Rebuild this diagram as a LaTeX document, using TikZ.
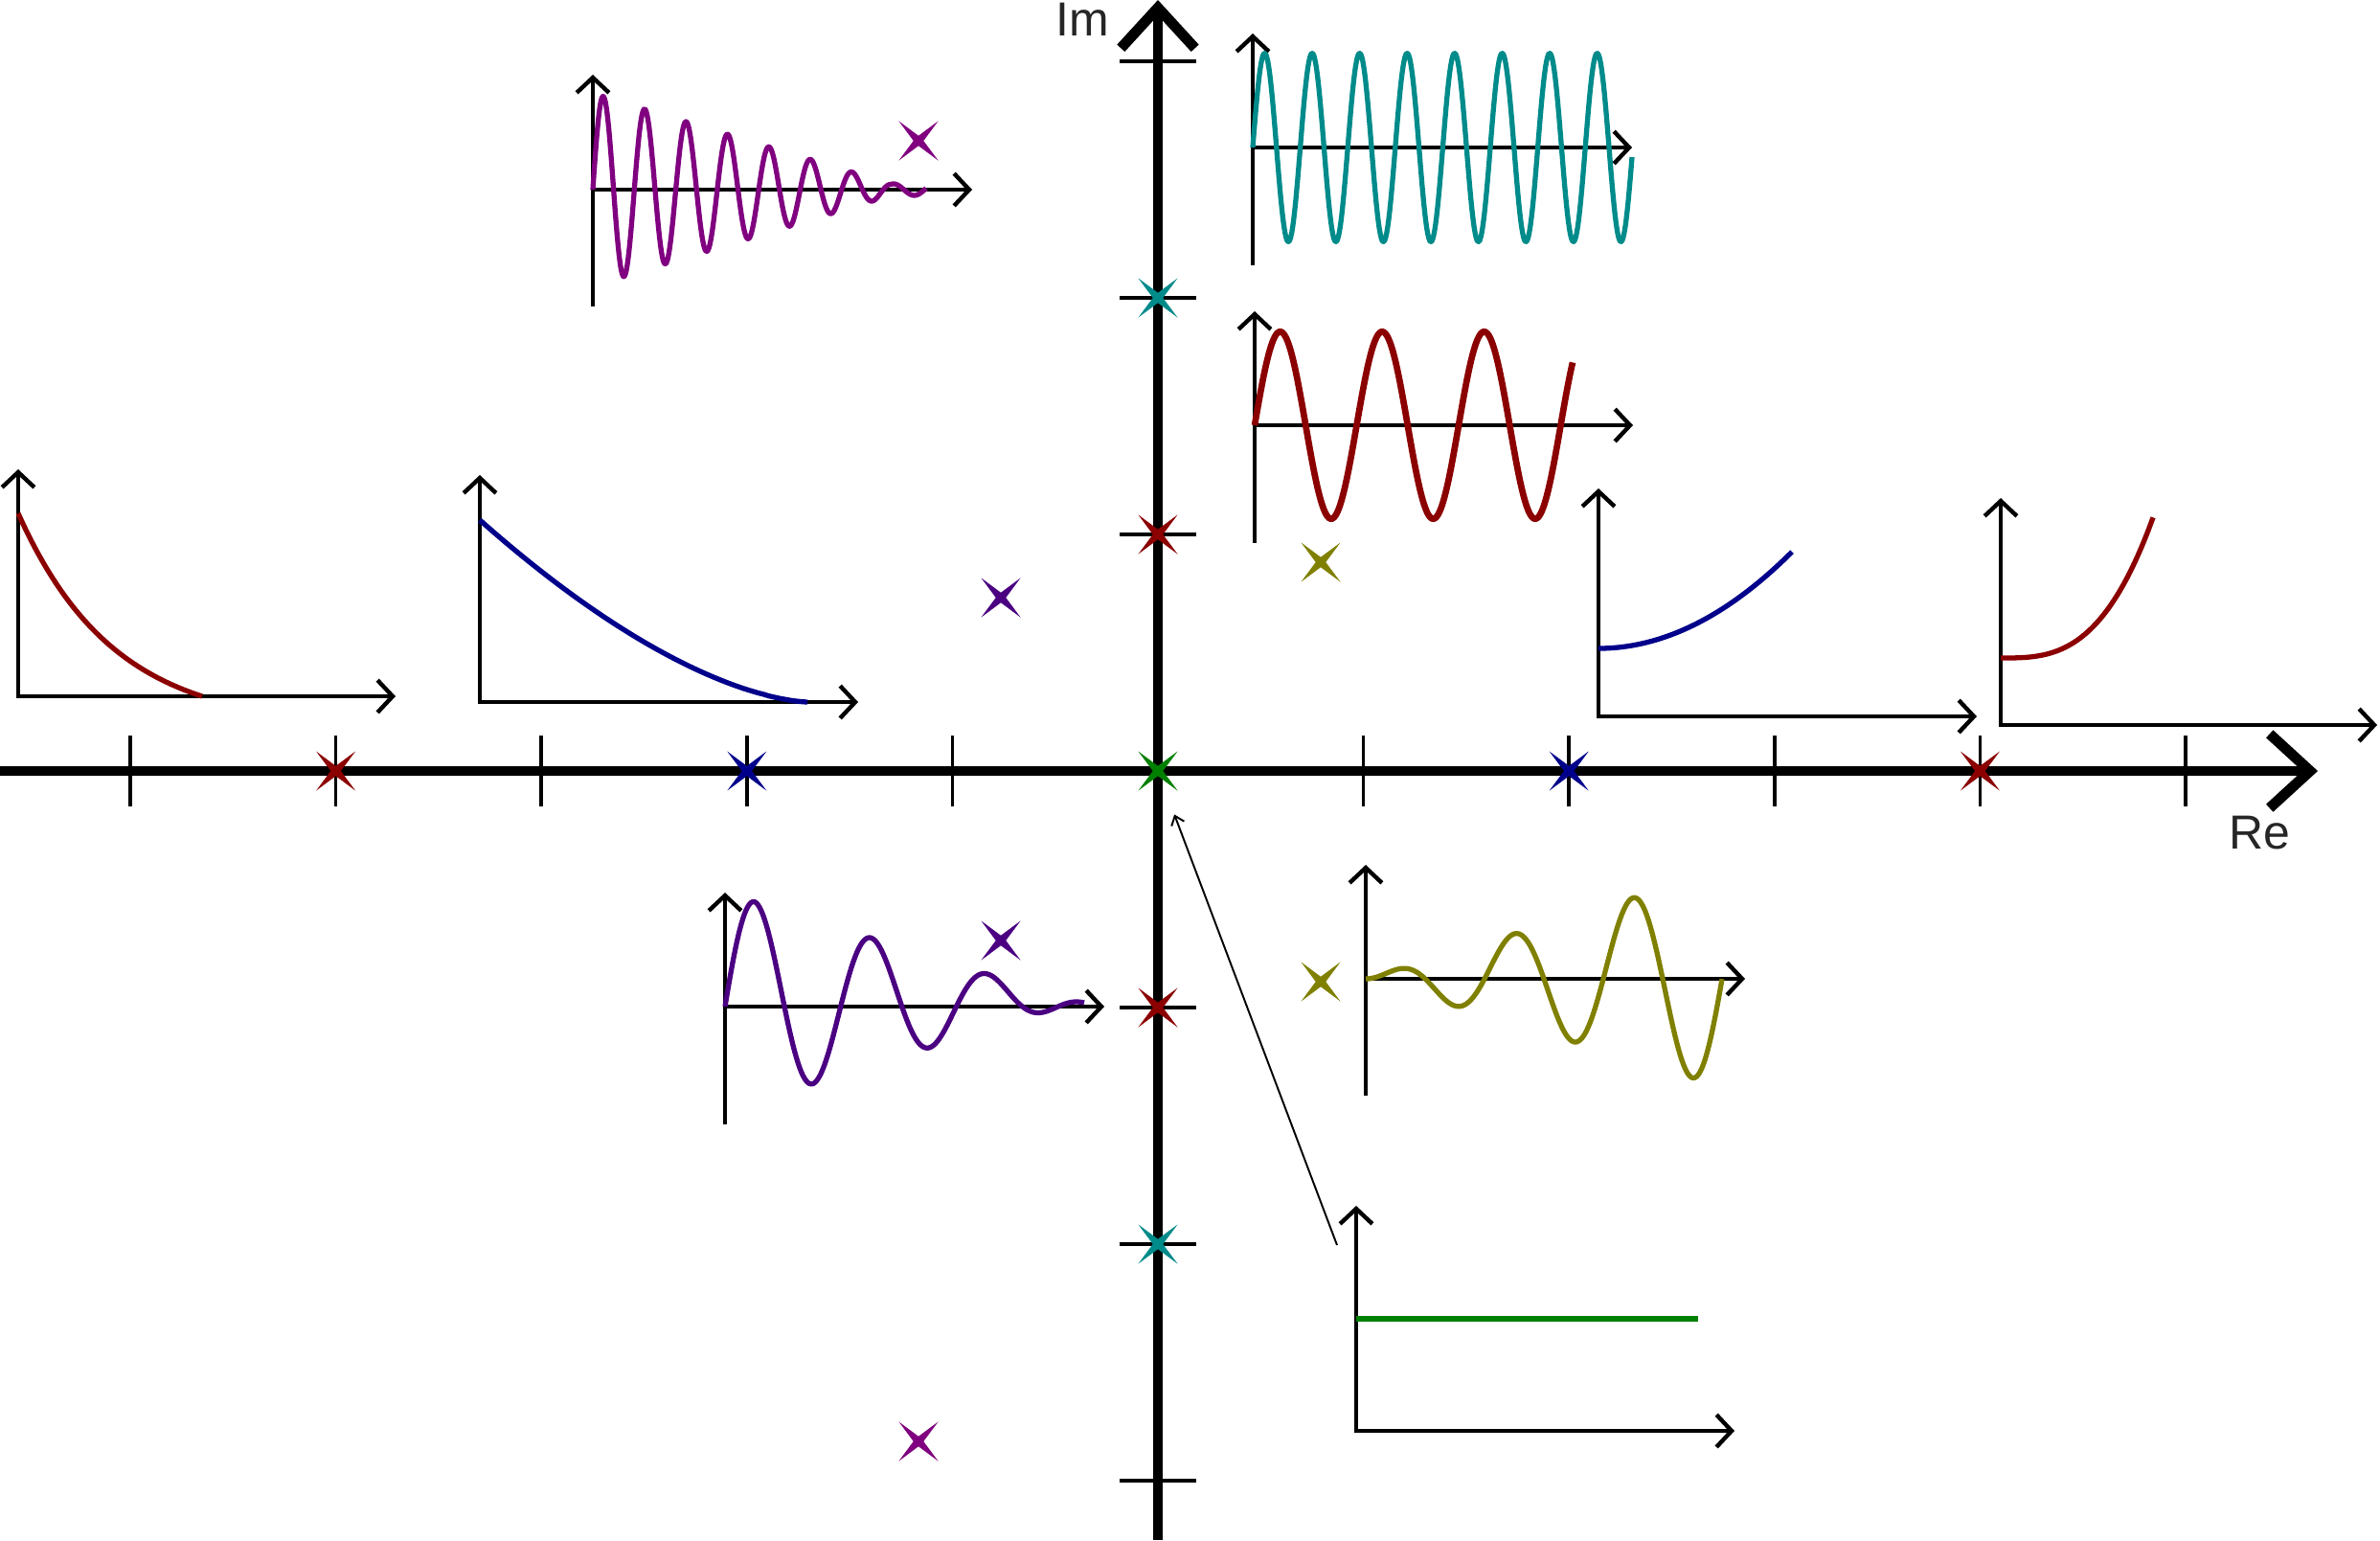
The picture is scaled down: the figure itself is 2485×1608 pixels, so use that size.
\documentclass[tikz,border=0pt]{standalone}
\usepackage{fontspec}
\setsansfont{Liberation Sans}
\usetikzlibrary{arrows.meta,shapes.geometric,positioning,calc}
\definecolor{wred}{RGB}{139,0,0}
\definecolor{wblue}{RGB}{0,0,139}
\definecolor{wteal}{RGB}{0,139,139}
\definecolor{wgreen}{RGB}{0,128,0}
\definecolor{wpurple}{RGB}{128,0,128}
\definecolor{windigo}{RGB}{75,0,130}
\definecolor{wolive}{RGB}{128,128,0}
\pgfmathsetmacro{\ox}{1209}
\pgfmathsetmacro{\oy}{805}
\pgfmathsetmacro{\ux}{214.6}
\pgfmathsetmacro{\uy}{247}

\begin{document}
\begin{tikzpicture}[x=0.01cm, y=-0.01cm,
    mainaxis/.style={line width=3.1pt, -{Straight Barb[length=12pt, width=22pt]}},
    tickmark/.style={line width=1pt},
    miniaxis/.style={line width=1.25pt, line cap=rect, -{Straight Barb[length=4.5pt, width=9.6pt]}},
    wave/.style={#1, line width=1.5pt, line join=round},
    pole/.style={star, star points=4, star point ratio=5.5, shape border rotate=45,
        fill=#1, inner sep=0pt, minimum size=16.5pt},
    link/.style={line width=0.55pt, shorten >=11.2pt, -{Straight Barb[length=2.5pt, width=4pt]}},
    axislabel/.style={text=black!85, font=\sffamily\fontsize{14.2}{17}\selectfont, inner sep=0pt}]
    \useasboundingbox (0,0) rectangle (2485,1608);
    \foreach \x/\y/\b/\t/\r in {619/198/318/78/1015, 1308/154/275/35/1704, 1310/444/565/325/1705,
        1426/1022/1142/903/1822, 757/1051/1172/932/1153, 19/727/727/490/413, 501/733/733/496/896,
        1669/748/748/510/2064, 2089/757/757/520/2482, 1416/1494/1494/1259/1811} {
        \draw[miniaxis] (\x,\b) -- (\x,\t);
        \draw[miniaxis] (\x,\y) -- (\r,\y);
    }
    \draw[wave=wpurple] plot[domain=0:348, samples=400] ({619+\x}, {198-max(6,100.7-0.304*\x)*sin(8.314*\x)});
    \draw[wave=wteal] plot[domain=0:396, samples=400] ({1308+\x}, {154-98.5*sin(7.258*\x)});
    \draw[wave=wred, line width=1.9pt] plot[domain=0:332, samples=300] ({1310+\x}, {444-97.7*sin(3.38*\x)});
    \draw[wave=wolive] plot[domain=0:372, samples=300] ({1426+\x}, {1022-0.303*\x*sin(2.903*\x)});
    \draw[wave=windigo] plot[domain=0:375, samples=300] ({757+\x}, {1051-(114-0.31*\x)*sin(2.951*\x)-5*min(1,\x/30)});
    \draw[wave=wred] plot[domain=0:192, samples=100] ({19+\x}, {727-223.8*(exp(-\x/100)-0.1466)});
    \draw[wave=wblue] plot[domain=0:342, samples=100] ({501+\x}, {733-190*(1-\x/343)^1.6});
    \draw[wave=wblue] plot[domain=0:202, samples=100] ({1669+\x}, {677-24.7*(\x/100)*(\x/100)});
    \draw[wave=wred] plot[domain=0:159, samples=100] ({2089+\x}, {687-146.7*(\x/159)*(\x/159)*(\x/159)});
    \draw[wave=wgreen] (1416,1377) -- (1773,1377);
    \foreach \k in {-5,...,5}
        \draw[tickmark] ({\ox+\k*\ux},768) -- ({\ox+\k*\ux},842);
    \foreach \k in {-3,...,3}
        \draw[tickmark] (1169,{\oy+\k*\uy}) -- (1249,{\oy+\k*\uy});
    \draw[mainaxis] (0,\oy) -- (2420,\oy);
    \draw[mainaxis] (\ox,1608) -- (\ox,0);
    \foreach \k/\c in {-4/wred, -2/wblue, 0/wgreen, 2/wblue, 4/wred}
        \node[pole=\c] (re\k) at ({\ox+\k*\ux},\oy) {};
    \foreach \k/\c in {-2/wteal, -1/wred, 1/wred, 2/wteal}
        \node[pole=\c] (im\k) at (\ox,{\oy-\k*\uy}) {};
    \foreach \n/\x/\y/\c in {pu1/959/147/wpurple, pu2/959/1505/wpurple, in1/1045/624/windigo,
        in2/1045/982/windigo, ol1/1379/587/wolive, ol2/1379/1025/wolive}
        \node[pole=\c] (\n) at (\x,\y) {};
    \coordinate (ctail) at (1396,1300);
    \draw[link] (ctail) -- (re0);
    \node[axislabel] (imlabel) at (1130,20) {Im};
    \node[axislabel] (relabel) at (2359,870) {Re};
\end{tikzpicture}
\end{document}
